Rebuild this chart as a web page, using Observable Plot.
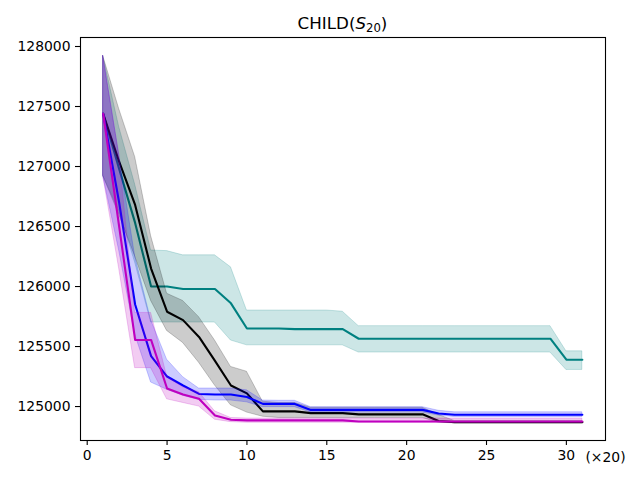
<!DOCTYPE html>
<html><head><meta charset="utf-8">
<script src="https://cdn.jsdelivr.net/npm/d3@7"></script>
<script src="https://cdn.jsdelivr.net/npm/@observablehq/plot@0.6"></script>
<style>
body{margin:0;background:#fff;font-family:"DejaVu Sans",sans-serif;}
#title{position:relative;width:640px;height:30px;}
#title .t{position:absolute;left:342.5px;top:14.6px;transform:translateX(-50%);font-size:16.7px;line-height:1;white-space:nowrap;color:#000;}
#title .t i{font-style:oblique;}
#title .t .s{font-size:11.7px;position:relative;top:3px;}
svg{display:block;}
</style></head>
<body>
<div id="title"><span class="t">CHILD(<i>S</i><span class="s">20</span>)</span></div>
<div id="chart"></div>
<script>
const steps = [1,2,3,4,5,6,7,8,9,10,11,12,13,14,15,16,17,18,19,20,21,22,23,24,25,26,27,28,29,30,31];
const xTicks = [0,5,10,15,20,25,30];
const yTicks = [125000,125500,126000,126500,127000,127500,128000];

const tealMean = [127440,126980,126530,126000,126000,125980,125980,125980,125860,125650,125650,125650,125645,125645,125645,125645,125565,125565,125565,125565,125565,125565,125565,125565,125565,125565,125565,125565,125565,125390,125390];
const tealLow  = [126920,126630,126200,125700,125700,125700,125700,125700,125550,125510,125510,125510,125510,125510,125510,125510,125450,125450,125450,125450,125450,125450,125450,125450,125450,125450,125450,125450,125450,125305,125305];
const tealHigh = [127920,127330,126850,126300,126295,126260,126260,126260,126160,125800,125800,125800,125800,125800,125800,125790,125670,125670,125670,125670,125670,125670,125670,125670,125670,125670,125670,125670,125670,125460,125460];

const blackMean = [127440,127040,126680,126150,125790,125720,125580,125380,125175,125110,124960,124960,124960,124945,124945,124945,124935,124935,124935,124935,124935,124880,124870,124870,124870,124870,124870,124870,124870,124870,124870];
const blackLow  = [126920,126600,126250,125880,125630,125530,125365,125175,125010,124950,124915,124905,124905,124905,124905,124905,124905,124905,124905,124905,124905,124865,124860,124860,124860,124860,124860,124860,124860,124860,124860];
const blackHigh = [127920,127480,127080,126420,125940,125880,125745,125550,125330,125290,125040,125030,125030,124990,124990,124990,124990,124990,124990,124990,124990,124930,124880,124880,124880,124880,124880,124880,124880,124880,124880];

const blueMean = [127440,126700,125850,125420,125250,125175,125105,125100,125100,125080,125022,125022,125022,124972,124972,124972,124972,124972,124972,124972,124972,124942,124932,124932,124932,124932,124932,124932,124932,124932,124932];
const blueLow  = [126920,126300,125600,125200,125140,125090,125055,125050,125050,125035,124995,124995,124995,124950,124950,124950,124950,124950,124950,124950,124950,124925,124912,124912,124912,124912,124912,124912,124912,124912,124912];
const blueHigh = [127920,127100,126250,125720,125390,125245,125150,125150,125150,125135,125050,125048,125048,124995,124995,124995,124995,124995,124995,124995,124995,124965,124952,124952,124952,124952,124952,124952,124952,124952,124952];

const magMean = [127440,126500,125555,125555,125150,125100,125065,124925,124890,124885,124885,124885,124885,124885,124885,124885,124875,124875,124875,124875,124875,124875,124875,124875,124875,124875,124875,124875,124875,124875,124875];
const magLow  = [126920,126150,125320,125320,125060,125030,125000,124890,124870,124865,124865,124865,124865,124865,124865,124865,124865,124865,124865,124865,124865,124865,124865,124865,124865,124865,124865,124865,124865,124865,124865];
const magHigh = [127920,127100,125780,125780,125250,125160,125120,124960,124905,124900,124900,124900,124900,124900,124900,124900,124900,124900,124900,124900,124900,124900,124900,124900,124900,124900,124900,124900,124900,124900,124900];

const seriesDefs = [
  {color:"#008080", mean:tealMean, lo:tealLow, hi:tealHigh},
  {color:"#000000", mean:blackMean, lo:blackLow, hi:blackHigh},
  {color:"#0000ff", mean:blueMean, lo:blueLow, hi:blueHigh},
  {color:"#bf00bf", mean:magMean, lo:magLow, hi:magHigh}
];

const marks = [];
for (const s of seriesDefs) {
  const rows = steps.map((x,i) => ({x, m:s.mean[i], lo:s.lo[i], hi:s.hi[i]}));
  marks.push(Plot.areaY(rows, {x:"x", y1:"lo", y2:"hi", fill:s.color, fillOpacity:0.2, stroke:s.color, strokeOpacity:0.2, strokeWidth:1}));
  marks.push(Plot.line(rows, {x:"x", y:"m", stroke:s.color, strokeWidth:2.1}));
}

const chart = Plot.plot({
  width:640, height:450,
  marginLeft:80, marginRight:35, marginTop:7, marginBottom:40,
  style:{fontSize:"13.9px", fontFamily:"DejaVu Sans, sans-serif", color:"black", background:"white"},
  x:{domain:[-0.42,32.45]},
  y:{domain:[124717,128075]},
  marks:[
    ...marks,
    Plot.axisX({ticks:xTicks, tickSize:5, tickPadding:5, label:null, tickFormat:d3.format("d"), stroke:"black", strokeWidth:1.1}),
    Plot.axisY({ticks:yTicks, tickSize:5, tickPadding:5, label:null, tickFormat:d3.format("d"), stroke:"black", strokeWidth:1.1}),
    Plot.frame({stroke:"black", strokeWidth:1.1}),
    Plot.text(["(×20)"], {frameAnchor:"bottom-right", dy:17, textAnchor:"middle", lineAnchor:"middle", fontSize:13.9, fill:"black"})
  ]
});
document.getElementById("chart").appendChild(chart);
</script>
</body></html>
